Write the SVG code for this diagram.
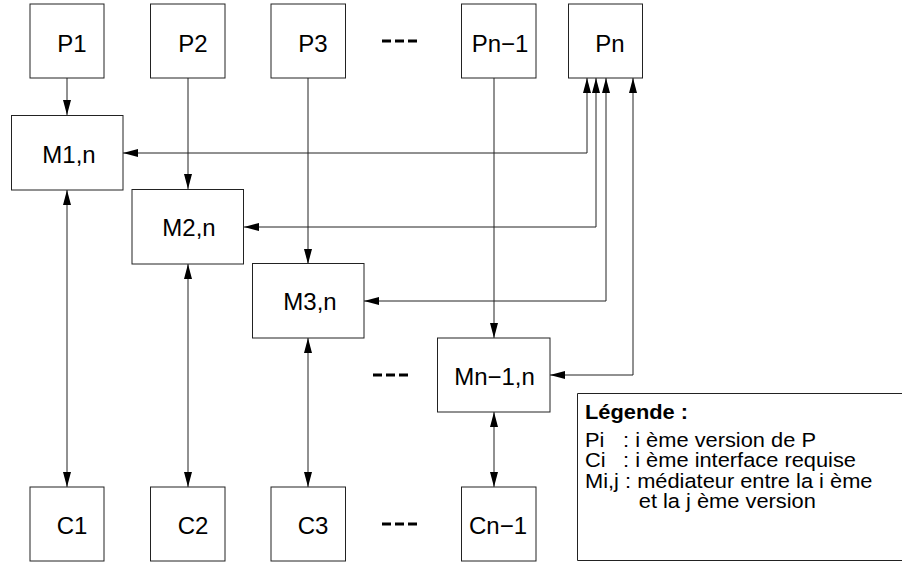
<svg xmlns="http://www.w3.org/2000/svg" width="902" height="563" viewBox="0 0 902 563">
<defs>
<style>
.box{fill:#fff;stroke:#222;stroke-width:1}
.lbl{font-family:"Liberation Sans",Arial,sans-serif;font-size:24px;fill:#000;text-anchor:middle}
.leg{font-family:"Liberation Sans",Arial,sans-serif;font-size:19.5px;fill:#000}
.con{fill:none;stroke:#222;stroke-width:1}
.dash{stroke:#000;stroke-width:3;stroke-dasharray:9,4}
</style>
<marker id="ah" viewBox="0 0 15 8" refX="15" refY="4" markerWidth="15" markerHeight="8" markerUnits="userSpaceOnUse" orient="auto-start-reverse">
<path d="M0,0 L15,4 L0,8 Z" fill="#000"/>
</marker>
</defs>
<rect width="902" height="563" fill="#fff"/>
<g id="connectors">
<line class="con" x1="67" y1="78" x2="67" y2="115" marker-end="url(#ah)"/>
<line class="con" x1="188" y1="78" x2="188" y2="189" marker-end="url(#ah)"/>
<line class="con" x1="308" y1="78" x2="308" y2="264" marker-end="url(#ah)"/>
<line class="con" x1="494" y1="78" x2="494" y2="338" marker-end="url(#ah)"/>
<path class="con" d="M123,153 H587 V78" marker-start="url(#ah)" marker-end="url(#ah)"/>
<path class="con" d="M244,227 H596 V78" marker-start="url(#ah)" marker-end="url(#ah)"/>
<path class="con" d="M364,301 H606 V78" marker-start="url(#ah)" marker-end="url(#ah)"/>
<path class="con" d="M550,375 H633 V78" marker-start="url(#ah)" marker-end="url(#ah)"/>
<line class="con" x1="67" y1="190" x2="67" y2="487" marker-start="url(#ah)" marker-end="url(#ah)"/>
<line class="con" x1="188" y1="264" x2="188" y2="487" marker-start="url(#ah)" marker-end="url(#ah)"/>
<line class="con" x1="308" y1="338" x2="308" y2="487" marker-start="url(#ah)" marker-end="url(#ah)"/>
<line class="con" x1="494" y1="412" x2="494" y2="487" marker-start="url(#ah)" marker-end="url(#ah)"/>
</g>
<g id="P1"><rect class="box" x="30" y="4" width="74" height="74"/><text class="lbl" x="72" y="52">P1</text></g>
<g id="P2"><rect class="box" x="150.5" y="4" width="74.5" height="74"/><text class="lbl" x="193" y="52">P2</text></g>
<g id="P3"><rect class="box" x="271" y="4" width="74.5" height="74"/><text class="lbl" x="313" y="52">P3</text></g>
<g id="Pn-1"><rect class="box" x="461.5" y="4" width="74.5" height="74"/><text class="lbl" x="500" y="52">Pn−1</text></g>
<g id="Pn"><rect class="box" x="568.5" y="4" width="74" height="74"/><text class="lbl" x="610" y="52">Pn</text></g>
<g id="M1n"><rect class="box" x="11.5" y="115.5" width="111.5" height="74.5"/><text class="lbl" x="69" y="162.5">M1,n</text></g>
<g id="M2n"><rect class="box" x="132" y="189.5" width="111.5" height="74.5"/><text class="lbl" x="189" y="236">M2,n</text></g>
<g id="M3n"><rect class="box" x="252.5" y="263.5" width="111.5" height="74.5"/><text class="lbl" x="310" y="310">M3,n</text></g>
<g id="Mn-1n"><rect class="box" x="437.5" y="338" width="112.5" height="74"/><text class="lbl" x="494.5" y="385">Mn−1,n</text></g>
<g id="C1"><rect class="box" x="30" y="487" width="74" height="74"/><text class="lbl" x="72" y="533.5">C1</text></g>
<g id="C2"><rect class="box" x="150.5" y="487" width="74.5" height="74"/><text class="lbl" x="193" y="533.5">C2</text></g>
<g id="C3"><rect class="box" x="271" y="487" width="74.5" height="74"/><text class="lbl" x="313" y="533.5">C3</text></g>
<g id="Cn-1"><rect class="box" x="461.5" y="487" width="74.5" height="74"/><text class="lbl" x="498" y="533.5">Cn−1</text></g>
<g id="ellipses">
<line class="dash" x1="382" y1="41" x2="421" y2="41"/>
<line class="dash" x1="373" y1="375" x2="412" y2="375"/>
<line class="dash" x1="382" y1="524" x2="421" y2="524"/>
</g>
<g id="legend">
<path d="M905,393.5 H577.5 V560.5 H905" fill="#fff" stroke="#222" stroke-width="1"/>
<g transform="translate(585,0) scale(1.12,1)">
<text class="leg" x="0" y="419" font-weight="bold">Légende :</text>
<text class="leg" x="0" y="447">Pi</text><text class="leg" x="34" y="447">: i ème version de P</text>
<text class="leg" x="0" y="467.5">Ci</text><text class="leg" x="34" y="467.5">: i ème interface requise</text>
<text class="leg" x="0" y="488">Mi,j : médiateur entre la i ème</text>
<text class="leg" x="48" y="508.5">et la j ème version</text>
</g>
</g>
</svg>
